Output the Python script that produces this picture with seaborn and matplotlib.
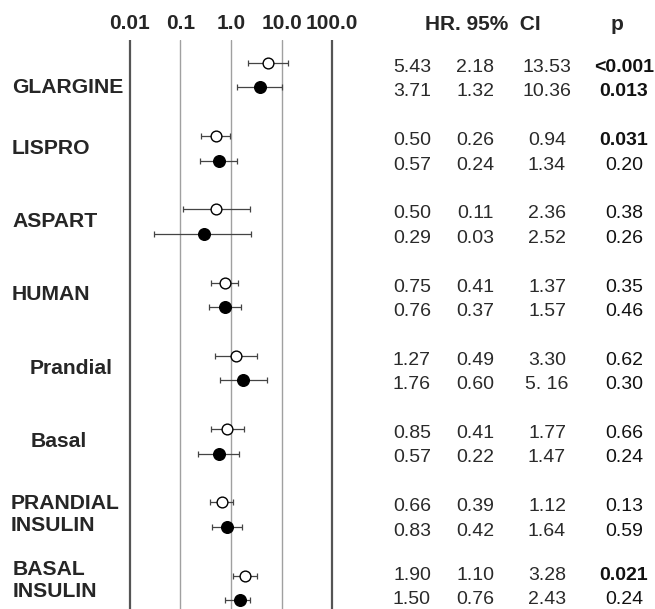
import matplotlib
matplotlib.use('Agg')
import matplotlib.pyplot as plt
import matplotlib.transforms as mtransforms
import pandas as pd
import seaborn as sns

# Insulin groups, each with two rows (open marker first, filled marker second)
groups = ['GLARGINE', 'LISPRO', 'ASPART', 'HUMAN', 'Prandial', 'Basal',
          'PRANDIAL\nINSULIN', 'BASAL\nINSULIN']
row_kind = ['open', 'filled']

hr_txt = ['5.43', '3.71', '0.50', '0.57', '0.50', '0.29', '0.75', '0.76',
          '1.27', '1.76', '0.85', '0.57', '0.66', '0.83', '1.90', '1.50']
lo_txt = ['2.18', '1.32', '0.26', '0.24', '0.11', '0.03', '0.41', '0.37',
          '0.49', '0.60', '0.41', '0.22', '0.39', '0.42', '1.10', '0.76']
hi_txt = ['13.53', '10.36', '0.94', '1.34', '2.36', '2.52', '1.37', '1.57',
          '3.30', '5. 16', '1.77', '1.47', '1.12', '1.64', '3.28', '2.43']
p_txt = ['<0.001', '0.013', '0.031', '0.20', '0.38', '0.26', '0.35', '0.46',
         '0.62', '0.30', '0.66', '0.24', '0.13', '0.59', '0.021', '0.24']

tick_vals = [0.01, 0.1, 1.0, 10.0, 100.0]
tick_labels = ['0.01', '0.1', '1.0', '10.0', '100.0']


def to_num(s):
    return float(s.replace(' ', '').replace('<', ''))


rows = []
for i, (h, lo, hi, p) in enumerate(zip(hr_txt, lo_txt, hi_txt, p_txt)):
    g = i // 2
    rows.append({'group': groups[g], 'kind': row_kind[i % 2], 'pos': g * 3 + i % 2,
                 'hr': to_num(h), 'lo': to_num(lo), 'hi': to_num(hi),
                 'p': to_num(p)})
df = pd.DataFrame(rows)

sns.set_theme(style='white')
plt.rcParams['font.family'] = ['Liberation Sans', 'DejaVu Sans']

W, H = 655, 609
fig = plt.figure(figsize=(W / 100, H / 100), dpi=100)
ax = fig.add_axes([120 / W, 0, 222 / W, 569 / H])
ax.set_xscale('log')
ax.set_xlim(10 ** -2.198, 10 ** 2.198)
ax.set_ylim(22.37, -0.94)

# reference lines
for v in tick_vals:
    outer = v in (0.01, 100.0)
    ax.axvline(v, color='#555555' if outer else '#a0a0a0',
               lw=1.6 if outer else 1.0, zorder=0)

# confidence intervals
ax.errorbar(df['hr'], df['pos'],
            xerr=[df['hr'] - df['lo'], df['hi'] - df['hr']],
            fmt='none', ecolor='#444444', elinewidth=0.9, capsize=2.0,
            capthick=0.9, zorder=1)

sns.scatterplot(data=df[df['kind'] == 'open'], x='hr', y='pos', ax=ax,
                s=60, color='white', edgecolor='black', linewidth=1.0,
                zorder=3, legend=False)
sns.scatterplot(data=df[df['kind'] == 'filled'], x='hr', y='pos', ax=ax,
                s=70, color='black', edgecolor='black', linewidth=1.0,
                zorder=3, legend=False)

ax.xaxis.set_ticks_position('top')
ax.set_xticks(tick_vals)
ax.set_xticklabels(tick_labels, fontsize=15, fontweight='bold')
ax.minorticks_off()
ax.tick_params(axis='x', length=0, pad=5)
ax.set_yticks([])
ax.set_xlabel('')
ax.set_ylabel('')
for sp in ax.spines.values():
    sp.set_visible(False)

trans = mtransforms.blended_transform_factory(fig.transFigure, ax.transData)

# group labels
label_x = [12, 12, 12, 12, 30, 31, 11, 13]
label_dy = [1.0, 0.5, 0.5, 0.5, 0.5, 0.5, 0.5, 0.2]
for g, name in enumerate(groups):
    ax.text(label_x[g] / W, g * 3 + label_dy[g], name, transform=trans,
            ha='left', va='center', fontsize=15.2, fontweight='bold',
            linespacing=1.22, clip_on=False)

# table (last group nudged up so it stays inside the figure)
col_x = [412, 475, 547, 624]
for i, r in df.iterrows():
    y = r['pos'] + (-0.1 if i >= len(df) - 2 else 0.1)
    for cx, txt in zip(col_x[:3], (hr_txt[i], lo_txt[i], hi_txt[i])):
        ax.text(cx / W, y, txt, transform=trans, ha='center',
                va='center_baseline', fontsize=14, color='#2a2a2a',
                clip_on=False)
    ax.text(col_x[3] / W, y, p_txt[i], transform=trans, ha='center',
            va='center_baseline', fontsize=14, color='#111111', clip_on=False,
            fontweight='bold' if r['p'] < 0.05 else 'normal')

fig.text(483 / W, 1 - 25 / H, 'HR. 95%  CI', ha='center', va='center',
         fontsize=15, fontweight='bold')
fig.text(617 / W, 1 - 25 / H, 'p', ha='center', va='center',
         fontsize=15, fontweight='bold')

fig.savefig('out.png', dpi=100, facecolor='white')
